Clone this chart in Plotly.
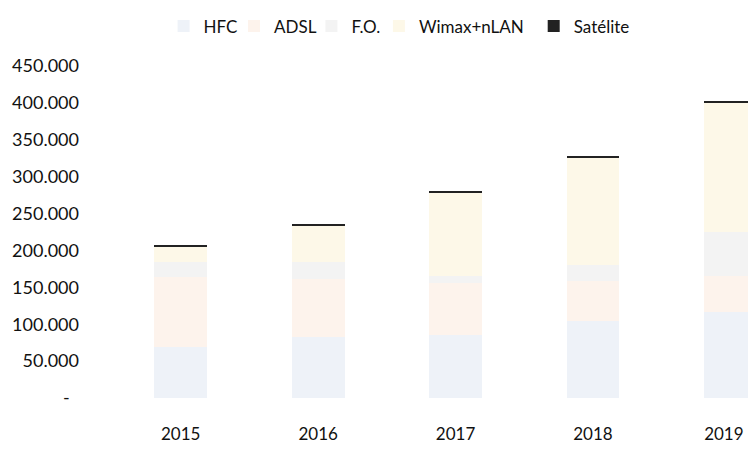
import plotly.graph_objects as go

years = ["2015", "2016", "2017", "2018", "2019"]
year_labels = ["2015", "2016", "2017", "2018", "2019\u00a0\u00a0\u00a0"]
hfc = [69000, 83000, 85000, 104000, 116000]
adsl = [95000, 78000, 71000, 55000, 50000]
fo = [20000, 24000, 9000, 21000, 59000]
wimax_lan = [22000, 49000, 113000, 146000, 176000]
satelite = [2000, 2000, 2000, 2000, 2000]

series_names = ["HFC", "ADSL", "F.O.", "Wimax+nLAN", "Satélite"]

y_tickvals = [0, 50000, 100000, 150000, 200000, 250000, 300000, 350000, 400000, 450000]
y_ticktext = ["-\u00a0\u00a0", "50.000", "100.000", "150.000", "200.000", "250.000",
              "300.000", "350.000", "400.000", "450.000"]

colors = ["#eef2f8", "#fdf3ec", "#f3f3f3", "#fdf8e8", "#222222"]
legend_ids = ["legend", "legend2", "legend3", "legend4", "legend5"]
legend_px = [156, 227, 305, 373, 529]  # left edge of each legend entry, in pixels

fig = go.Figure()
for name, vals, col, lid in zip(series_names, [hfc, adsl, fo, wimax_lan, satelite],
                                colors, legend_ids):
    fig.add_trace(go.Bar(x=years, y=vals, name=name, legend=lid,
                         marker=dict(color=col, line=dict(width=0))))

font_family = "Lato, 'Open Sans', sans-serif"
plot_left, plot_w = 104, 644
legend_layout = {}
for lid, px in zip(legend_ids, legend_px):
    legend_layout[lid] = dict(x=(px - plot_left) / plot_w, xanchor="left",
                              y=1.119, yanchor="middle", orientation="h",
                              font=dict(size=17), itemwidth=30,
                              bgcolor="rgba(0,0,0,0)")

fig.update_layout(
    width=748, height=436,
    barmode="stack", bargap=0.615,
    plot_bgcolor="white", paper_bgcolor="white",
    margin=dict(l=plot_left, r=0, t=57, b=42),
    font=dict(family=font_family, size=18, color="#111111"),
    showlegend=True,
    xaxis=dict(type="category", range=[-0.5, 4.15], showgrid=False, showline=False,
               zeroline=False, ticks="", ticklabelstandoff=24, tickfont=dict(size=17),
               tickmode="array", tickvals=years, ticktext=year_labels),
    yaxis=dict(range=[0, 450000], tickvals=y_tickvals, ticktext=y_ticktext,
               showgrid=False, showline=False, zeroline=False, ticks="",
               ticklabelstandoff=32),
    **legend_layout,
)

fig.write_html("out.html")
